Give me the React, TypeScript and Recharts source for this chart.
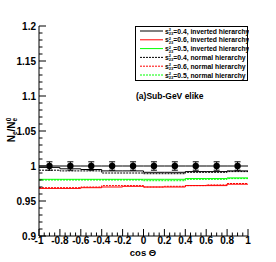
import React from 'react';
import { ComposedChart, Line, Scatter, ErrorBar, XAxis, YAxis } from 'recharts';

const binEdges = [-1, -0.8, -0.6, -0.4, -0.2, 0, 0.2, 0.4, 0.6, 0.8, 1];
const invS04 = [0.998, 0.996, 0.995, 0.993, 0.993, 0.991, 0.991, 0.992, 0.992, 0.993];
const invS06 = [0.968, 0.968, 0.969, 0.970, 0.971, 0.970, 0.970, 0.972, 0.972, 0.974];
const invS05 = [0.981, 0.981, 0.981, 0.981, 0.981, 0.981, 0.981, 0.982, 0.982, 0.983];
const norS04 = [0.994, 0.993, 0.993, 0.990, 0.990, 0.989, 0.989, 0.991, 0.991, 0.992];
const norS06 = [0.969, 0.969, 0.970, 0.972, 0.972, 0.970, 0.971, 0.972, 0.973, 0.975];
const norS05 = [0.980, 0.980, 0.980, 0.980, 0.980, 0.979, 0.979, 0.981, 0.981, 0.982];

const pointX = [-0.9, -0.7, -0.5, -0.3, -0.1, 0.1, 0.3, 0.5, 0.7, 0.9];
const pointY = [1, 1, 1, 1, 1, 1, 1, 1, 1, 1];
const pointErrY = [0.006, 0.006, 0.006, 0.006, 0.006, 0.006, 0.006, 0.006, 0.006, 0.006];
const pointErrX = [0.1, 0.1, 0.1, 0.1, 0.1, 0.1, 0.1, 0.1, 0.1, 0.1];

const xMajor = [-1, -0.8, -0.6, -0.4, -0.2, 0, 0.2, 0.4, 0.6, 0.8, 1];
const xLabels = ['-1', '-0.8', '-0.6', '-0.4', '-0.2', '0', '0.2', '0.4', '0.6', '0.8', '1'];
const yMajor = [0.9, 0.95, 1, 1.05, 1.1, 1.15, 1.2];
const yLabels = ['0.9', '0.95', '1', '1.05', '1.1', '1.15', '1.2'];

const xTicks: number[] = [];
for (let i = 0; i <= 40; i++) xTicks.push(Math.round((-1 + i * 0.05) * 1000) / 1000);
const yTicks: number[] = [];
for (let i = 0; i <= 30; i++) yTicks.push(Math.round((0.9 + i * 0.01) * 1000) / 1000);

const series = [
  { key: 'invS04', vals: invS04, color: '#000000', dash: undefined, s: '0.4', h: 'inverted hierarchy' },
  { key: 'invS06', vals: invS06, color: '#ff0000', dash: undefined, s: '0.6', h: 'inverted hierarchy' },
  { key: 'invS05', vals: invS05, color: '#00ff00', dash: undefined, s: '0.5', h: 'inverted hierarchy' },
  { key: 'norS04', vals: norS04, color: '#000000', dash: '2 1', s: '0.4', h: 'normal hierarchy' },
  { key: 'norS06', vals: norS06, color: '#ff0000', dash: '2 1', s: '0.6', h: 'normal hierarchy' },
  { key: 'norS05', vals: norS05, color: '#00ff00', dash: '2 1', s: '0.5', h: 'normal hierarchy' },
];

const table = binEdges.map((x, i) => {
  const row: any = { x };
  series.forEach((s) => {
    row[s.key] = s.vals[Math.min(i, s.vals.length - 1)];
  });
  return row;
});

const points = pointX.map((x, i) => ({ x, y: pointY[i], ey: pointErrY[i], ex: pointErrX[i] }));

const FONT = '"Liberation Sans", Arial, sans-serif';

const isMajorIn = (arr: number[], v: number) => arr.findIndex((m) => Math.abs(m - v) < 1e-6);

const XTick = (props: any) => {
  const { x, y, payload } = props;
  const idx = isMajorIn(xMajor, payload.value);
  const major = idx >= 0;
  return (
    <g>
      <line x1={x} x2={x} y1={y} y2={y - (major ? 7 : 3.5)} stroke="#000" strokeWidth={1} />
      {major && (
        <text x={x} y={y + 8} textAnchor="middle" fontFamily={FONT} fontSize={10} fontWeight="bold" fill="#000">
          {xLabels[idx]}
        </text>
      )}
    </g>
  );
};

const YTick = (props: any) => {
  const { x, y, payload } = props;
  const idx = isMajorIn(yMajor, payload.value);
  const major = idx >= 0;
  return (
    <g>
      <line x1={x} x2={x + (major ? 7 : 3.5)} y1={y} y2={y} stroke="#000" strokeWidth={1} />
      {major && (
        <text x={x - 3} y={y + 3.5} textAnchor="end" fontFamily={FONT} fontSize={10} fontWeight="bold" fill="#000">
          {yLabels[idx]}
        </text>
      )}
    </g>
  );
};

const LegendBox = () => (
  <svg width={114} height={55} style={{ display: 'block' }}>
    <rect x={0.5} y={0.5} width={112} height={54} fill="#fff" stroke="#000" strokeWidth={1} />
    {series.map((s, i) => {
      const cy = 5 + i * 8.8;
      return (
        <g key={s.key}>
          <line x1={5} x2={28} y1={cy} y2={cy} stroke={s.color} strokeWidth={1} strokeDasharray={s.dash} />
          <text x={30} y={cy + 2.5} fontFamily={FONT} fontSize={6.8} fontWeight="bold" fill="#000">
            s
            <tspan fontSize={4} dy={-2.5}>2</tspan>
            <tspan fontSize={4} dx={-2.2} dy={4}>23</tspan>
            <tspan dy={-1.5}>{`=${s.s}, ${s.h}`}</tspan>
          </text>
        </g>
      );
    })}
  </svg>
);

export default function App() {
  return (
    <div style={{ position: 'absolute', left: 0, top: 0, width: 276, height: 262, background: '#fff' }}>
      <ComposedChart
        width={276}
        height={262}
        data={table}
        margin={{ top: 26, right: 28, left: 0, bottom: 0 }}
      >
        <XAxis
          dataKey="x"
          type="number"
          domain={[-1, 1]}
          ticks={xTicks}
          interval={0}
          tick={<XTick />}
          tickSize={0}
          tickMargin={0}
          tickLine={false}
          axisLine={{ stroke: '#000' }}
          height={26}
          allowDataOverflow
        />
        <YAxis
          type="number"
          domain={[0.9, 1.2]}
          ticks={yTicks}
          interval={0}
          tick={<YTick />}
          tickSize={0}
          tickMargin={0}
          tickLine={false}
          axisLine={{ stroke: '#000' }}
          width={39}
          allowDataOverflow
        />
        <XAxis xAxisId="top" orientation="top" type="number" domain={[-1, 1]} tick={false} tickLine={false} axisLine={{ stroke: '#000' }} height={0} />
        <YAxis yAxisId="right" orientation="right" type="number" domain={[0.9, 1.2]} tick={false} tickLine={false} axisLine={{ stroke: '#e88' }} width={0} />
        {series.map((s) => (
          <Line
            key={s.key}
            dataKey={s.key}
            type="stepAfter"
            stroke={s.color}
            strokeWidth={1}
            strokeDasharray={s.dash}
            dot={false}
            activeDot={false}
            isAnimationActive={false}
          />
        ))}
        <Scatter data={points} dataKey="y" fill="#000" isAnimationActive={false} shape={(p: any) => <circle cx={p.cx} cy={p.cy} r={3.2} fill="#000" />}>
          <ErrorBar dataKey="ey" direction="y" width={3} stroke="#000" strokeWidth={1} />
          <ErrorBar dataKey="ex" direction="x" width={0} stroke="#000" strokeWidth={1} />
        </Scatter>
      </ComposedChart>
      <div style={{ position: 'absolute', left: 135, top: 26 }}>
        <LegendBox />
      </div>
      <div
        style={{
          position: 'absolute',
          left: 136,
          top: 91,
          fontFamily: FONT,
          fontSize: 8.5,
          fontWeight: 'bold',
          whiteSpace: 'nowrap',
          lineHeight: '10px',
        }}
      >
        (a)Sub-GeV elike
      </div>
      <div
        style={{
          position: 'absolute',
          left: 143,
          top: 247,
          transform: 'translateX(-50%)',
          fontFamily: FONT,
          fontSize: 9.5,
          fontWeight: 'bold',
          whiteSpace: 'nowrap',
          lineHeight: '12px',
        }}
      >
        cos Θ
      </div>
      <svg style={{ position: 'absolute', left: 0, top: 0 }} width={30} height={262}>
        <text
          transform="translate(15,130) rotate(-90)"
          textAnchor="middle"
          fontFamily={FONT}
          fontSize={10}
          fontWeight="bold"
        >
          N
          <tspan fontSize={6.5} dy={2}>e</tspan>
          <tspan dy={-2}>/N</tspan>
          <tspan fontSize={6.5} dy={2}>e</tspan>
          <tspan fontSize={6.5} dx={-3.5} dy={-6}>0</tspan>
        </text>
      </svg>
    </div>
  );
}
